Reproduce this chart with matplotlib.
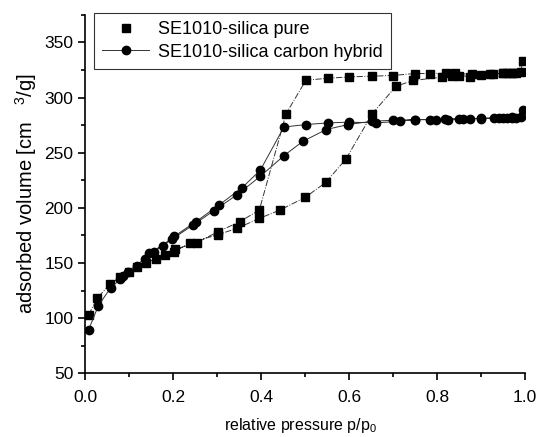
import numpy as np
import matplotlib
matplotlib.use('Agg')
import matplotlib.pyplot as plt
from matplotlib.lines import Line2D
from matplotlib.ticker import MultipleLocator

plt.rcParams['font.family'] = ['Liberation Sans', 'DejaVu Sans']
plt.rcParams['mathtext.fontset'] = 'custom'
plt.rcParams['mathtext.rm'] = 'Liberation Sans'
plt.rcParams['mathtext.it'] = 'Liberation Sans'

# SE1010-silica pure: adsorption then desorption branch
pure_ads_x = [0.008, 0.028, 0.057, 0.08, 0.1, 0.117, 0.139, 0.161, 0.182, 0.202, 0.239,
              0.301, 0.346, 0.396, 0.443, 0.500, 0.547, 0.593, 0.653, 0.707, 0.746,
              0.812, 0.835, 0.85, 0.875, 0.9, 0.928, 0.95, 0.96, 0.97, 0.98, 0.995]
pure_ads_y = [103, 118.5, 130.6, 137, 141.5, 146, 150.3, 153.6, 157.3, 160, 168.5,
              175.5, 181.5, 190.4, 198, 209.4, 223, 244.3, 285.5, 310.3, 315.5,
              318.5, 319.5, 320, 319, 320.6, 321.8, 322, 322, 322.5, 322.5, 332.7]
pure_des_x = [0.99, 0.97, 0.95, 0.92, 0.88, 0.84, 0.82, 0.783, 0.75, 0.699, 0.652,
              0.6, 0.551, 0.502, 0.457, 0.396, 0.352, 0.303, 0.254, 0.205]
pure_des_y = [323, 322.5, 322, 321.5, 321, 322, 322, 321.8, 321.8, 320, 319.4,
              318.7, 317.5, 315.7, 285.5, 198, 187.5, 178.5, 168.5, 162.4]

# SE1010-silica carbon hybrid
hyb_ads_x = [0.008, 0.03, 0.058, 0.08, 0.098, 0.117, 0.136, 0.146, 0.176, 0.197, 0.246,
             0.293, 0.346, 0.398, 0.452, 0.495, 0.548, 0.598, 0.652, 0.701, 0.75,
             0.783, 0.819, 0.85, 0.875, 0.9, 0.93, 0.95, 0.96, 0.97, 0.98, 0.995]
hyb_ads_y = [89.5, 111.2, 127.5, 135.2, 142, 147.5, 154, 159.4, 165.8, 171.5, 184.5,
             197.5, 212, 228.5, 247.3, 260.3, 271, 275.5, 278.5, 279.4, 280,
             280, 280.5, 281, 281, 281.2, 281.5, 281.5, 281.5, 281.5, 281.5, 289]
hyb_des_x = [0.99, 0.97, 0.94, 0.9, 0.86, 0.825, 0.798, 0.75, 0.716, 0.661, 0.6,
             0.551, 0.502, 0.452, 0.398, 0.356, 0.305, 0.252, 0.202, 0.157, 0.087]
hyb_des_y = [282, 282, 281.5, 281, 280.5, 280, 280, 280, 278.5, 277, 277.7,
             277, 275.5, 273.3, 234, 218, 202.7, 187.5, 174, 160.3, 138.6]

fig = plt.figure(figsize=(5.39, 4.37), dpi=100)
ax = fig.add_axes([0.158, 0.146, 0.816, 0.82])

ax.plot(pure_ads_x + pure_des_x, pure_ads_y + pure_des_y, color='#333333', lw=0.7,
        ls='-.', marker='s', ms=5.5, mfc='black', mec='black')
ax.plot(hyb_ads_x + hyb_des_x, hyb_ads_y + hyb_des_y, color='#333333', lw=0.7,
        ls='-', marker='o', ms=6, mfc='black', mec='black')

ax.set_xlim(0, 1.0)
ax.set_ylim(50, 375)
ax.xaxis.set_major_locator(MultipleLocator(0.2))
ax.xaxis.set_minor_locator(MultipleLocator(0.1))
ax.yaxis.set_major_locator(MultipleLocator(50))
ax.yaxis.set_minor_locator(MultipleLocator(25))
ax.set_xticklabels([f'{v:.1f}' for v in ax.get_xticks()])
ax.spines['top'].set_visible(False)
ax.spines['right'].set_visible(False)
ax.spines['left'].set_linewidth(1.2)
ax.spines['bottom'].set_linewidth(1.2)
ax.tick_params(which='major', direction='out', length=5, width=1.2, labelsize=12.5)
ax.tick_params(axis='x', which='major', pad=7)
ax.tick_params(which='minor', direction='out', length=3, width=1.2)

ax.set_ylabel('adsorbed volume [cm   $^{3}$/g]', fontsize=14.5)
ax.yaxis.set_label_coords(-0.105, 0.5)
ax.set_xlabel('relative pressure p/p$_{0}$', fontsize=11.5)
ax.xaxis.label.set_va('baseline')
ax.xaxis.set_label_coords(0.49, -0.158)

handles = [Line2D([], [], ls='none', marker='s', ms=5.5, color='black'),
           Line2D([], [], color='#333333', lw=0.7, marker='o', ms=6, mfc='black', mec='black')]
leg = ax.legend(handles, ['SE1010-silica pure', 'SE1010-silica carbon hybrid'],
                loc='upper left', bbox_to_anchor=(0.02, 1.005), fontsize=13,
                frameon=True, fancybox=False, borderpad=0.45, labelspacing=0.3,
                handlelength=2.6, handletextpad=0.5, borderaxespad=0)
leg.get_frame().set_edgecolor('black')
leg.get_frame().set_linewidth(0.8)

fig.savefig('out.png', dpi=100)
